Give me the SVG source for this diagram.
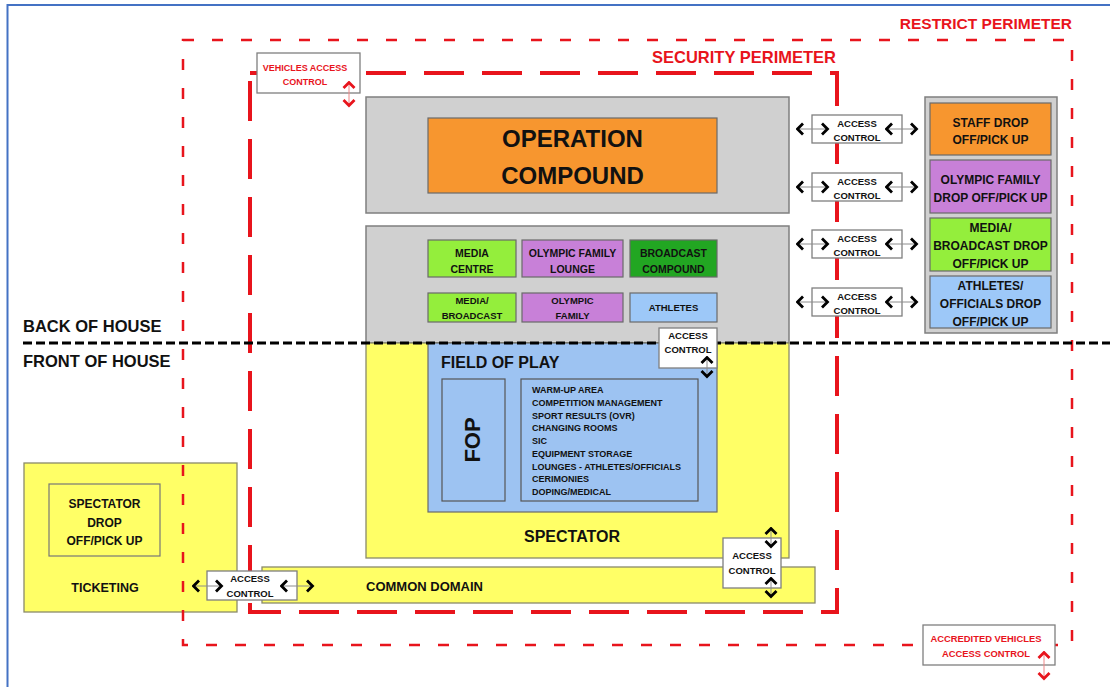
<svg xmlns="http://www.w3.org/2000/svg" width="1110" height="687" viewBox="0 0 1110 687">
<defs>
<style>
text{font-family:"Liberation Sans",Arial,sans-serif;font-weight:bold;fill:#111;text-anchor:middle}
.red{fill:#E8141C}
.lbl{text-anchor:start}
.gray{fill:#D0D0D0;stroke:#7F7F7F;stroke-width:1.5}
.yel{fill:#FFFF66;stroke:#8A8A6A;stroke-width:1.3}
.inner{stroke:#6A6A6A;stroke-width:1.2}
.ac{fill:#FFFFFF;stroke:#7F7F7F;stroke-width:1.3}
.arr{stroke:#8C8C8C;stroke-width:1;fill:none;marker-start:url(#chev);marker-end:url(#chev)}
.arrR{stroke:#E88;stroke-width:1;fill:none;marker-start:url(#chevR);marker-end:url(#chevR)}
</style>
<marker id="chev" viewBox="0 0 10 14" markerWidth="10" markerHeight="14" refX="8.5" refY="7" orient="auto-start-reverse" markerUnits="userSpaceOnUse">
<path d="M2.5,1.5 L8,7 L2.5,12.5" fill="none" stroke="#000" stroke-width="2.8"/>
</marker>
<marker id="chevR" viewBox="0 0 10 14" markerWidth="10" markerHeight="14" refX="8.5" refY="7" orient="auto-start-reverse" markerUnits="userSpaceOnUse">
<path d="M2.5,1.5 L8,7 L2.5,12.5" fill="none" stroke="#E8141C" stroke-width="2.8"/>
</marker>
</defs>
<rect x="0" y="0" width="1110" height="687" fill="#FFFFFF"/>
<rect x="7.5" y="5" width="1112" height="700" fill="none" stroke="#4472C4" stroke-width="2"/>

<g id="ticketing">
<rect x="24" y="463" width="213" height="149" class="yel"/>
<text x="105" y="592" font-size="12.5">TICKETING</text>
</g>
<g id="spectator-drop">
<rect x="49" y="484" width="111" height="72" fill="none" stroke="#777" stroke-width="1.2"/>
<text x="104.5" y="508" font-size="12">SPECTATOR</text>
<text x="104.5" y="527" font-size="12">DROP</text>
<text x="104.5" y="545" font-size="12">OFF/PICK UP</text>
</g>

<g id="restrict-perimeter">
<rect x="183" y="40" width="889" height="605" fill="none" stroke="#E8141C" stroke-width="2.5" stroke-dasharray="11 18"/>
<text x="1072" y="29" font-size="15.5" class="red" text-anchor="end" style="text-anchor:end">RESTRICT PERIMETER</text>
</g>
<g id="security-perimeter">
<rect x="250" y="73" width="587" height="539" fill="none" stroke="#E8141C" stroke-width="4" stroke-dasharray="40 18"/>
<text x="836" y="63" font-size="16.5" class="red" style="text-anchor:end">SECURITY PERIMETER</text>
</g>

<g id="operation-area">
<rect x="366" y="97" width="423" height="116" class="gray"/>
</g>
<g id="operation-compound">
<rect x="428" y="118" width="289" height="75" fill="#F7962F" class="inner"/>
<text x="572.5" y="147" font-size="24">OPERATION</text>
<text x="572.5" y="184" font-size="24">COMPOUND</text>
</g>
<g id="back-area">
<rect x="366" y="226" width="423" height="117" class="gray"/>
</g>
<g id="media-centre">
<rect x="428" y="240" width="88" height="37" fill="#94EE3C" class="inner"/>
<text x="472" y="257" font-size="10.5">MEDIA</text>
<text x="472" y="273" font-size="10.5">CENTRE</text>
</g>
<g id="olympic-family-lounge">
<rect x="522" y="240" width="101" height="37" fill="#C880D8" class="inner"/>
<text x="572.5" y="257" font-size="10.5">OLYMPIC FAMILY</text>
<text x="572.5" y="273" font-size="10.5">LOUNGE</text>
</g>
<g id="broadcast-compound">
<rect x="630" y="240" width="87" height="37" fill="#22A622" class="inner"/>
<text x="673.5" y="257" font-size="10.5">BROADCAST</text>
<text x="673.5" y="273" font-size="10.5">COMPOUND</text>
</g>
<g id="media-broadcast">
<rect x="428" y="293" width="88" height="29" fill="#94EE3C" class="inner"/>
<text x="472" y="304" font-size="9.5">MEDIA/</text>
<text x="472" y="319" font-size="9.5">BROADCAST</text>
</g>
<g id="olympic-family">
<rect x="522" y="293" width="101" height="29" fill="#C880D8" class="inner"/>
<text x="572.5" y="304" font-size="9.5">OLYMPIC</text>
<text x="572.5" y="319" font-size="9.5">FAMILY</text>
</g>
<g id="athletes">
<rect x="630" y="293" width="87" height="29" fill="#9DC8F8" class="inner"/>
<text x="673.5" y="311" font-size="9.5">ATHLETES</text>
</g>

<g id="spectator">
<rect x="366" y="343" width="423" height="215" class="yel"/>
<text x="572" y="542" font-size="16">SPECTATOR</text>
</g>
<g id="field-of-play">
<rect x="428" y="343" width="289" height="169" fill="#9DC3F2" class="inner"/>
<text x="441" y="368" font-size="16" class="lbl" style="text-anchor:start">FIELD OF PLAY</text>
</g>
<g id="fop">
<rect x="442" y="379" width="63" height="122" fill="none" stroke="#555" stroke-width="1.2"/>
<text x="0" y="0" font-size="22" transform="translate(480,440) rotate(-90)">FOP</text>
</g>
<g id="fop-list">
<rect x="521" y="379" width="177" height="122" fill="none" stroke="#555" stroke-width="1.2"/>
<g font-size="9" style="text-anchor:start">
<text x="532" y="393" class="lbl" style="text-anchor:start">WARM-UP AREA</text>
<text x="532" y="405.8" class="lbl" style="text-anchor:start">COMPETITION MANAGEMENT</text>
<text x="532" y="418.5" class="lbl" style="text-anchor:start">SPORT RESULTS (OVR)</text>
<text x="532" y="431.3" class="lbl" style="text-anchor:start">CHANGING ROOMS</text>
<text x="532" y="444" class="lbl" style="text-anchor:start">SIC</text>
<text x="532" y="456.8" class="lbl" style="text-anchor:start">EQUIPMENT STORAGE</text>
<text x="532" y="469.5" class="lbl" style="text-anchor:start">LOUNGES - ATHLETES/OFFICIALS</text>
<text x="532" y="482.3" class="lbl" style="text-anchor:start">CERIMONIES</text>
<text x="532" y="495" class="lbl" style="text-anchor:start">DOPING/MEDICAL</text>
</g>
</g>

<g id="common-domain">
<rect x="262" y="567" width="553" height="36" class="yel"/>
<text x="366" y="591" font-size="13" style="text-anchor:start">COMMON DOMAIN</text>
</g>

<g id="drop-off-column">
<rect x="925" y="97" width="132" height="236" class="gray"/>
</g>
<g id="staff-drop">
<rect x="930" y="103" width="121" height="52" fill="#F7962F" class="inner"/>
<text x="990.5" y="126.5" font-size="12">STAFF DROP</text>
<text x="990.5" y="143.5" font-size="12">OFF/PICK UP</text>
</g>
<g id="olympic-family-drop">
<rect x="930" y="160" width="121" height="53" fill="#C880D8" class="inner"/>
<text x="990.5" y="183.5" font-size="12">OLYMPIC FAMILY</text>
<text x="990.5" y="201.5" font-size="12">DROP OFF/PICK UP</text>
</g>
<g id="media-drop">
<rect x="930" y="218" width="121" height="53" fill="#94EE3C" class="inner"/>
<text x="990.5" y="231.5" font-size="12">MEDIA/</text>
<text x="990.5" y="249.5" font-size="12">BROADCAST DROP</text>
<text x="990.5" y="267.5" font-size="12">OFF/PICK UP</text>
</g>
<g id="athletes-drop">
<rect x="930" y="276" width="121" height="52" fill="#9DC8F8" class="inner"/>
<text x="990.5" y="289.5" font-size="12">ATHLETES/</text>
<text x="990.5" y="307.5" font-size="12">OFFICIALS DROP</text>
<text x="990.5" y="325.5" font-size="12">OFF/PICK UP</text>
</g>

<g id="house-divider">
<line x1="23" y1="343" x2="1110" y2="343" stroke="#000" stroke-width="3" stroke-dasharray="9 4"/>
<text x="23" y="332" font-size="16.5" style="text-anchor:start">BACK OF HOUSE</text>
<text x="23" y="367" font-size="16.5" style="text-anchor:start">FRONT OF HOUSE</text>
</g>

<g id="access-control-fop">
<rect x="659" y="328" width="58" height="40" class="ac"/>
<text x="688" y="339" font-size="9.5">ACCESS</text>
<text x="688" y="353" font-size="9.5">CONTROL</text>
</g>
<g id="access-control-spectator">
<rect x="723" y="538" width="58" height="50" class="ac"/>
<text x="752" y="559" font-size="9.5">ACCESS</text>
<text x="752" y="574" font-size="9.5">CONTROL</text>
</g>
<g id="access-control-ticketing">
<rect x="207" y="571" width="90" height="29" class="ac"/>
<text x="250" y="582" font-size="9.5">ACCESS</text>
<text x="250" y="596.5" font-size="9.5">CONTROL</text>
</g>
<g id="access-control-staff">
<rect x="812" y="115" width="90" height="28" class="ac"/>
<text x="857" y="126.5" font-size="9.5">ACCESS</text>
<text x="857" y="141" font-size="9.5">CONTROL</text>
</g>
<g id="access-control-olympic">
<rect x="812" y="173" width="90" height="28" class="ac"/>
<text x="857" y="184.5" font-size="9.5">ACCESS</text>
<text x="857" y="199" font-size="9.5">CONTROL</text>
</g>
<g id="access-control-media">
<rect x="812" y="230" width="90" height="28" class="ac"/>
<text x="857" y="241.5" font-size="9.5">ACCESS</text>
<text x="857" y="256" font-size="9.5">CONTROL</text>
</g>
<g id="access-control-athletes">
<rect x="812" y="288" width="90" height="28" class="ac"/>
<text x="857" y="299.5" font-size="9.5">ACCESS</text>
<text x="857" y="314" font-size="9.5">CONTROL</text>
</g>
<g id="vehicles-access-control">
<rect x="257" y="53" width="103" height="40" class="ac"/>
<text x="305" y="70.5" font-size="9" class="red">VEHICLES ACCESS</text>
<text x="305" y="84.5" font-size="9" class="red">CONTROL</text>
</g>
<g id="accredited-vehicles-access-control">
<rect x="923" y="625" width="132" height="40" class="ac"/>
<text x="986" y="641.5" font-size="9.4" class="red">ACCREDITED VEHICLES</text>
<text x="986" y="656.5" font-size="9.4" class="red">ACCESS CONTROL</text>
</g>

<g id="connectors">
<line x1="797" y1="129" x2="828" y2="129" class="arr"/>
<line x1="886" y1="129" x2="917" y2="129" class="arr"/>
<line x1="797" y1="187" x2="828" y2="187" class="arr"/>
<line x1="886" y1="187" x2="917" y2="187" class="arr"/>
<line x1="797" y1="244" x2="828" y2="244" class="arr"/>
<line x1="886" y1="244" x2="917" y2="244" class="arr"/>
<line x1="797" y1="302" x2="828" y2="302" class="arr"/>
<line x1="886" y1="302" x2="917" y2="302" class="arr"/>
<line x1="193" y1="586" x2="222" y2="586" class="arr"/>
<line x1="281" y1="586" x2="313" y2="586" class="arr"/>
<line x1="707" y1="357" x2="707" y2="377" class="arr"/>
<line x1="771" y1="528" x2="771" y2="547" class="arr"/>
<line x1="771" y1="578" x2="771" y2="597" class="arr"/>
<line x1="349" y1="82" x2="349" y2="106" class="arrR"/>
<line x1="1044" y1="652" x2="1044" y2="679" class="arrR"/>
</g>
</svg>
